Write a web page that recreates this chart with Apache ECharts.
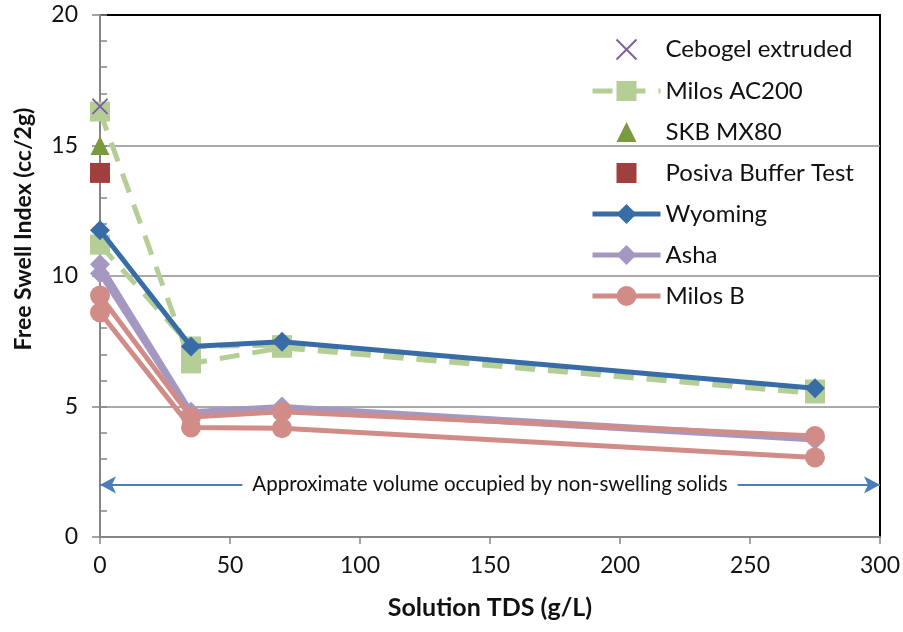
<!DOCTYPE html>
<html>
<head>
<meta charset="utf-8">
<script src="https://cdn.jsdelivr.net/npm/echarts@6/dist/echarts.min.js"></script>
<style>
  html, body { margin: 0; padding: 0; background: #fff; }
  #chart { width: 903px; height: 632px; }
</style>
</head>
<body>
<div id="chart"></div>
<script>
// ---- data ----
const cebogelPts = [[0, 16.5]];
const milosAC200a = [[0, 16.3], [35, 6.65], [70, 7.25], [275, 5.5]];
const milosAC200b = [[0, 11.2], [35, 7.3], [70, 7.35], [275, 5.65]];
const skbPts = [[0, 15.0]];
const posivaPts = [[0, 13.95]];
const wyomingPts = [[0, 11.75], [35, 7.3], [70, 7.48], [275, 5.7]];
const ashaA = [[0, 10.45], [35, 4.8], [70, 5.0], [275, 3.8]];
const ashaB = [[0, 10.1], [35, 4.7], [70, 4.9], [275, 3.72]];
const milosBa = [[0, 9.25], [35, 4.6], [70, 4.8], [275, 3.87]];
const milosBb = [[0, 8.6], [35, 4.2], [70, 4.17], [275, 3.05]];

const legendNames = ["Cebogel extruded", "Milos AC200", "SKB MX80", "Posiva Buffer Test", "Wyoming", "Asha", "Milos B"];

const arrowFrom = [0, 2];
const arrowTo = [300, 2];
const arrowText = "Approximate volume occupied by non-swelling solids";

const FONT = "Lato";

const chart = echarts.init(document.getElementById("chart"));

// every series is a line series so the legend draws the marker at its real size;
// the single-point ones just get an invisible line
function makeSeries(name, data, color, symbol, size, z, kind) {
    const s = {
        name: name,
        type: "line",
        data: data,
        symbol: symbol,
        symbolSize: size,
        clip: false,
        z: z,
        lineStyle: { color: color, width: 5, type: "solid" },
        itemStyle: { color: color },
        emphasis: { disabled: true }
    };
    if (kind === "dash") {
        s.lineStyle.type = [20, 13];
    }
    if (kind === "point") {
        s.lineStyle.opacity = 0;
        s.lineStyle.width = 0;
    }
    return s;
}

const cebogel = makeSeries("Cebogel extruded", cebogelPts, "#7D60A0", "path://M0,0 L10,10 M10,0 L0,10", 15, 8, "point");
cebogel.itemStyle = { color: "none", borderColor: "#7D60A0", borderWidth: 2 };

chart.setOption({
    animation: false,
    textStyle: { fontFamily: FONT },

    grid: {
        left: 100,
        right: 23,
        top: 15,
        bottom: 95,
        show: true,
        borderColor: "#000",
        borderWidth: 2
    },

    legend: {
        data: legendNames,
        orient: "vertical",
        left: 585,
        top: 32,
        itemWidth: 68,
        itemHeight: 25,
        itemGap: 17,
        lineStyle: { width: 5 },
        textStyle: { fontFamily: FONT, fontSize: 24, color: "#111" }
    },

    xAxis: {
        type: "value",
        min: 0,
        max: 300,
        interval: 50,
        name: "Solution TDS (g/L)",
        nameLocation: "middle",
        nameGap: 58,
        nameTextStyle: { fontFamily: FONT, fontSize: 25, fontWeight: "bold", color: "#111" },
        axisLine: { lineStyle: { color: "#868686", width: 2 } },
        axisTick: { show: true, length: 7, lineStyle: { color: "#868686", width: 1.5 } },
        axisLabel: { fontFamily: FONT, fontSize: 23, color: "#111", margin: 17 },
        splitLine: { show: false }
    },

    yAxis: [
        {
            type: "value",
            min: 0,
            max: 20,
            interval: 5,
            axisLine: { show: true, lineStyle: { color: "#868686", width: 2 } },
            axisTick: { show: true, length: 8, lineStyle: { color: "#868686", width: 1.5 } },
            axisLabel: { fontFamily: FONT, fontSize: 23, color: "#111", margin: 22 },
            splitLine: {
                show: true,
                showMinLine: false,
                showMaxLine: false,
                lineStyle: { color: "#8c8c8c", width: 1.5 }
            }
        },
        {
            type: "value",
            min: 0,
            max: 20,
            interval: 1,
            position: "left",
            axisLine: { show: false },
            axisTick: { show: true, inside: true, length: 7, lineStyle: { color: "#868686", width: 1.5 } },
            axisLabel: { show: false },
            splitLine: { show: false }
        }
    ],

    graphic: [
        {
            type: "text",
            x: 24,
            y: 229,
            rotation: Math.PI / 2,
            style: {
                text: "Free Swell Index (cc/2g)",
                fontFamily: FONT,
                fontSize: 23,
                fontWeight: "bold",
                fill: "#111",
                align: "center",
                verticalAlign: "middle"
            }
        }
    ],

    series: [
        {
            name: "arrow",
            type: "line",
            data: [],
            silent: true,
            markLine: {
                silent: true,
                symbol: ["arrow", "arrow"],
                symbolSize: [13, 16],
                lineStyle: { color: "#4A7EBB", width: 2, type: "solid" },
                label: {
                    show: true,
                    position: "insideMiddle",
                    formatter: arrowText,
                    fontFamily: FONT,
                    fontSize: 20.5,
                    color: "#111",
                    backgroundColor: "#fff",
                    padding: [3, 10]
                },
                data: [[{ coord: arrowFrom }, { coord: arrowTo }]]
            }
        },
        makeSeries("Milos AC200", milosAC200a, "#B4CE95", "rect", 20, 3, "dash"),
        makeSeries("Milos AC200", milosAC200b, "#B4CE95", "rect", 20, 3, "dash"),
        makeSeries("SKB MX80", skbPts, "#7A9A3E", "triangle", 19, 4, "point"),
        makeSeries("Posiva Buffer Test", posivaPts, "#A0403E", "rect", 20, 4, "point"),
        makeSeries("Wyoming", wyomingPts, "#386CA6", "diamond", 20, 5, "solid"),
        makeSeries("Asha", ashaA, "#A498C0", "diamond", 20, 6, "solid"),
        makeSeries("Asha", ashaB, "#A498C0", "diamond", 20, 6, "solid"),
        makeSeries("Milos B", milosBa, "#D28C88", "circle", 20, 7, "solid"),
        makeSeries("Milos B", milosBb, "#D28C88", "circle", 20, 7, "solid"),
        cebogel
    ]
});
</script>
</body>
</html>
